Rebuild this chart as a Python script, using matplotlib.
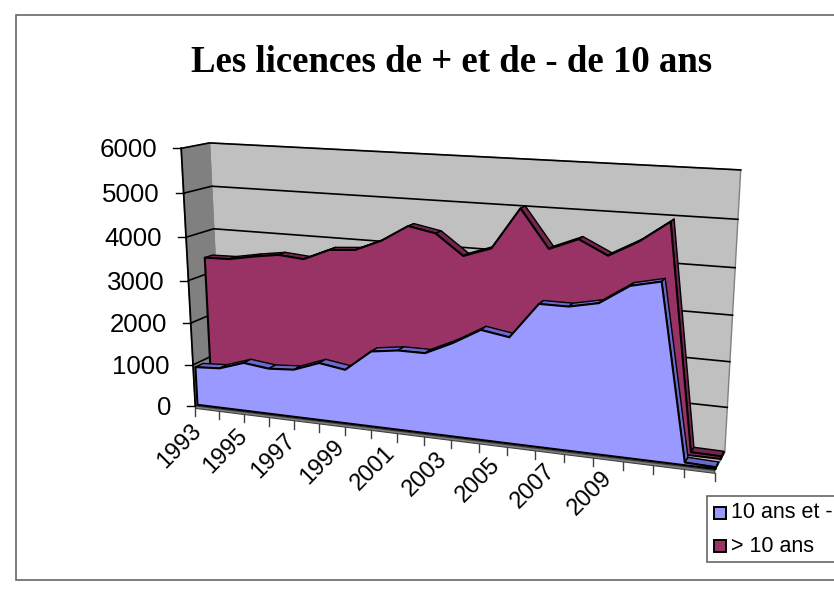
import numpy as np
import matplotlib
matplotlib.use("Agg")
import matplotlib.pyplot as plt
from matplotlib.patches import Polygon, Rectangle

years = list(range(1993, 2013))
tick_years = list(range(1993, 2010, 2))
blue_vals = [921, 957, 1153, 1082, 1124, 1346, 1254, 1741, 1827, 1830,
             2118, 2470, 2369, 3148, 3146, 3274, 3688, 3828, 60, 40]
red_vals = [3396, 3409, 3515, 3601, 3550, 3807, 3852, 4106, 4474, 4355,
            3904, 4117, 5018, 4195, 4448, 4145, 4486, 4941, 70, 60]
y_ticks = [0, 1000, 2000, 3000, 4000, 5000, 6000]
legend_names = ["10 ans et -", "> 10 ans"]
title = "Les licences de + et de - de 10 ans"

BLUE, BLUE_DK = "#9999FF", "#6A6ACC"
RED, RED_DK = "#993366", "#72264C"
WALL, SIDE = "#C0C0C0", "#808080"

# perspective of the 3d box: (category, value/1000, depth) -> pixels, fitted on the box corners
anchors = [
    (0, 6, 0, 181, 149), (0, 3, 0, 188.3, 281.7), (0, 0, 0, 195, 407),
    (0, 6, 1, 210, 142), (0, 4, 1, 214, 228), (0, 0, 1, 222, 390),
    (19, 6, 1, 741, 169), (19, 5, 1, 737.7, 219.3), (19, 4, 1, 735, 268.3),
    (19, 3, 1, 732.3, 315.7), (19, 2, 1, 729.3, 362.7), (19, 1, 1, 727, 408.7),
    (19, 0, 1, 725, 454), (19, 0, 0, 717, 472), (18, 0, 0, 683.3, 465),
    (17, 0, 0, 652.7, 458), (1, 0, 0, 219.3, 410), (5, 0, 0, 318.3, 422),
]
rows = []
for X, Y, Z, px, py in anchors:
    rows.append([X, Y, Z, 1, 0, 0, 0, 0, -px*X, -px*Y, -px*Z, -px])
    rows.append([0, 0, 0, 0, X, Y, Z, 1, -py*X, -py*Y, -py*Z, -py])
P = np.linalg.svd(np.array(rows, dtype=float))[2][-1].reshape(3, 4)


def proj(u, val, t):
    h = P @ np.array([u, val / 1000.0, t, 1.0])
    return h[0] / h[2], h[1] / h[2]


fig = plt.figure(figsize=(8.34, 5.95), dpi=100)
ax = fig.add_axes([0, 0, 1, 1])
ax.set_xlim(0, 834)
ax.set_ylim(595, 0)
ax.axis("off")

ax.add_patch(Rectangle((16.5, 15), 830, 565, fc="white", ec="#666666", lw=1.2))


def quad(pts, fc, ec="black", lw=1.0, z=2):
    ax.add_patch(Polygon(pts, closed=True, fc=fc, ec=ec, lw=lw, zorder=z, joinstyle="round"))


# walls and floor
n = len(years) - 1
quad([proj(0, 0, 1), proj(0, 6000, 1), proj(n, 6000, 1), proj(n, 0, 1)], WALL, ec=SIDE)
quad([proj(0, 0, 0), proj(0, 6000, 0), proj(0, 6000, 1), proj(0, 0, 1)], SIDE, ec=SIDE)
quad([proj(0, 0, 0), proj(n, 0, 0), proj(n, 0, 1), proj(0, 0, 1)], WALL, ec="#404040", lw=0.8)
quad([proj(0, 0, 0), proj(n, 0, 0), proj(n, -60, 0), proj(0, -60, 0)], SIDE, ec="#404040", lw=0.8)

for v in y_ticks[1:]:
    pts = [proj(0, v, 0), proj(0, v, 1), proj(n, v, 1)]
    ax.plot(*zip(*pts), color="black", lw=1.2, zorder=2.5)
ax.plot(*zip(proj(0, 0, 0), proj(0, 6000, 0)), color="black", lw=1.3, zorder=2.5)


def area(vals, t0, t1, col, dark, z):
    for i in range(n):
        quad([proj(i, vals[i], t0), proj(i + 1, vals[i + 1], t0),
              proj(i + 1, vals[i + 1], t1), proj(i, vals[i], t1)], dark, lw=1.0, z=z)
    quad([proj(n, 0, t0), proj(n, vals[n], t0), proj(n, vals[n], t1), proj(n, 0, t1)], dark, lw=0.6, z=z)
    face = [proj(0, 0, t0)] + [proj(i, v, t0) for i, v in enumerate(vals)] + [proj(n, 0, t0)]
    quad(face, col, lw=1.5, z=z + 0.1)


area(red_vals, 0.62, 0.9, RED, RED_DK, 3)
area(blue_vals, 0.08, 0.36, BLUE, BLUE_DK, 4)

# axis ticks and labels
for v in y_ticks:
    x0, y0 = proj(0, v, 0)
    ax.plot([x0 - 8, x0], [y0, y0], color="black", lw=1.0, zorder=5)
    ax.text(x0 - 24, y0 + 2, str(v), ha="right", va="center", fontsize=18.6,
            family="Liberation Sans", zorder=6)

for i, yr in enumerate(years):
    x0, y0 = proj(i, -60, 0)
    ax.plot([x0, x0], [y0, y0 + 8], color="#404040", lw=1.0, zorder=1.5)
    if yr in tick_years:
        # labels drift left of their ticks towards the right of the axis
        ax.text(x0 - 5 - 1.05 * i, y0 + 11 - 0.4 * i, str(yr), rotation=45, rotation_mode="anchor",
                ha="right", va="top", fontsize=17, family="Liberation Sans", zorder=6)

ax.text(452, 62, title, ha="center", va="center", fontsize=26.5, fontweight="bold",
        family="Liberation Serif")

# legend, runs off the right edge like the original
ax.add_patch(Rectangle((707, 496), 140, 66, fc="white", ec="#666666", lw=1.2, zorder=6))
for name, col, yy in zip(legend_names, [BLUE, RED], [513, 546]):
    ax.add_patch(Rectangle((714, yy - 6), 12, 12, fc=col, ec="black", lw=1.4, zorder=7))
    ax.text(731, yy, name, ha="left", va="center", fontsize=15.5, family="Liberation Sans", zorder=7)

fig.savefig("out.png", dpi=100)
